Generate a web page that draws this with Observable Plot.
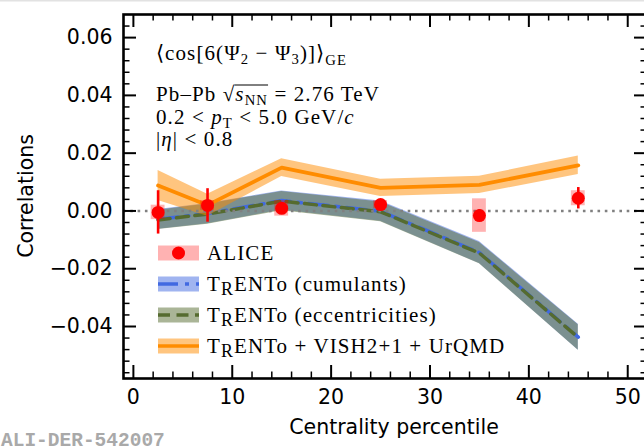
<!DOCTYPE html>
<html>
<head>
<meta charset="utf-8">
<script src="https://cdn.jsdelivr.net/npm/d3@7"></script>
<script src="https://cdn.jsdelivr.net/npm/@observablehq/plot@0.6"></script>
<style>
  body { margin: 0; background: #fff; }
  #chart { width: 644px; height: 448px; overflow: hidden; position: relative; }
</style>
</head>
<body>
<div id="chart"></div>
<script>
// Centrality bins (bin centres, %)
const centrality = [2.5, 7.5, 15, 25, 35, 45];

// ALICE measurement: value, statistical and systematic uncertainty
const aliceValue = [-0.0005, 0.0019, 0.0009, 0.0022, -0.0016, 0.0044];
const aliceStat  = [0.0075, 0.0058, 0.0008, 0.0008, 0.0020, 0.0037];
const aliceSyst  = [0.0025, 0.0017, 0.0027, 0.0014, 0.0058, 0.0026];

// TRENTo initial-state predictions
const cumulantsValue = [-0.0029, -0.0009, 0.0036, -0.0001, -0.0144, -0.0437];
const cumulantsErr   = [0.0034, 0.0035, 0.0033, 0.0035, 0.0038, 0.0045];
const eccentricityValue = [-0.0031, -0.0011, 0.0034, -0.0003, -0.0146, -0.0438];
const eccentricityErr   = [0.0033, 0.0035, 0.0033, 0.0034, 0.0037, 0.0044];

// TRENTo + VISH2+1 + UrQMD hybrid model
const hydroValue = [0.0088, 0.0020, 0.0150, 0.0080, 0.0090, 0.0158];
const hydroErr   = [0.0052, 0.0038, 0.0031, 0.0030, 0.0030, 0.0032];

// Axis ticks
const xMajorTicks = [0, 10, 20, 30, 40, 50];
const xMinorTicks = d3.range(2, 52, 2).filter(v => v % 10 !== 0);
const yMajorTicks = [-0.04, -0.02, 0, 0.02, 0.04, 0.06];
const yMinorTicks = d3.range(-14, 17).filter(i => i % 5 !== 0).map(i => +(i * 0.004).toFixed(3));

// Layout
const W = 647, H = 448;
const mL = 123, mR = 0, mT = 14, mB = 70;
const frameW = W - mL - mR, frameH = H - mT - mB;
const majorLen = 13, minorLen = 6.5;

const colors = {
  alice: "#ff0000",
  cumulants: "#4169e1",
  eccentricity: "#556b2f",
  hydro: "#ff8c00"
};

const alice = centrality.map((c, i) => ({c, v: aliceValue[i], stat: aliceStat[i], syst: aliceSyst[i]}));
const band = (vals, errs) => centrality.map((c, i) => ({c, v: vals[i], lo: vals[i] - errs[i], hi: vals[i] + errs[i]}));
const cumulants = band(cumulantsValue, cumulantsErr);
const eccentricity = band(eccentricityValue, eccentricityErr);
const hydro = band(hydroValue, hydroErr);

const boxHalf = 0.7; // half-width of systematic boxes in centrality units

const svg = Plot.plot({
  width: W, height: H,
  marginLeft: mL, marginRight: mR, marginTop: mT, marginBottom: mB,
  style: {fontFamily: "DejaVu Sans", fontSize: "20.5px", color: "#000", background: "#fff", maxWidth: "none", overflow: "visible"},
  x: {domain: [-1, 52]},
  y: {domain: [-0.058, 0.068]},
  marks: [
    Plot.areaY(cumulants, {x: "c", y1: "lo", y2: "hi", fill: colors.cumulants, fillOpacity: 0.5}),
    Plot.areaY(eccentricity, {x: "c", y1: "lo", y2: "hi", fill: colors.eccentricity, fillOpacity: 0.5}),
    Plot.lineY(cumulants, {x: "c", y: "v", stroke: colors.cumulants, strokeWidth: 3.5, strokeDasharray: "20,7,4,7"}),
    Plot.lineY(eccentricity, {x: "c", y: "v", stroke: colors.eccentricity, strokeWidth: 3.5, strokeDasharray: "12,6.5"}),
    Plot.areaY(hydro, {x: "c", y1: "lo", y2: "hi", fill: colors.hydro, fillOpacity: 0.5}),
    Plot.lineY(hydro, {x: "c", y: "v", stroke: colors.hydro, strokeWidth: 3.8}),
    Plot.ruleY([0], {stroke: "#808080", strokeWidth: 2.6, strokeDasharray: "2.6,4.7"}),
    Plot.rect(alice, {x1: d => d.c - boxHalf, x2: d => d.c + boxHalf, y1: d => d.v - d.syst, y2: d => d.v + d.syst, fill: colors.alice, fillOpacity: 0.3}),
    Plot.ruleX(alice, {x: "c", y1: d => d.v - d.stat, y2: d => d.v + d.stat, stroke: colors.alice, strokeWidth: 2.6}),
    Plot.dot(alice, {x: "c", y: "v", r: 6.5, fill: colors.alice}),
    // inward ticks on all four sides
    Plot.tickX(xMajorTicks, {x: d => d, insetTop: frameH - majorLen, stroke: "#000", strokeWidth: 2}),
    Plot.tickX(xMinorTicks, {x: d => d, insetTop: frameH - minorLen, stroke: "#000", strokeWidth: 1.5}),
    Plot.tickX(xMajorTicks, {x: d => d, insetBottom: frameH - majorLen, stroke: "#000", strokeWidth: 2}),
    Plot.tickX(xMinorTicks, {x: d => d, insetBottom: frameH - minorLen, stroke: "#000", strokeWidth: 1.5}),
    Plot.tickY(yMajorTicks, {y: d => d, insetRight: frameW - majorLen, stroke: "#000", strokeWidth: 2}),
    Plot.tickY(yMinorTicks, {y: d => d, insetRight: frameW - minorLen, stroke: "#000", strokeWidth: 1.5}),
    Plot.tickY(yMajorTicks, {y: d => d, insetLeft: frameW - majorLen, stroke: "#000", strokeWidth: 2}),
    Plot.tickY(yMinorTicks, {y: d => d, insetLeft: frameW - minorLen, stroke: "#000", strokeWidth: 1.5}),
    Plot.frame({stroke: "#000", strokeWidth: 2.6}),
    Plot.axisX({ticks: xMajorTicks, tickSize: 0, tickPadding: 11, label: null, tickFormat: d => String(d)}),
    Plot.axisY({ticks: yMajorTicks, tickSize: 0, tickPadding: 11, label: null, tickFormat: d3.format(".2f")})
  ]
});

document.getElementById("chart").appendChild(svg);
const root = d3.select(svg);

// thin rule along the top edge of the page
root.append("rect").attr("x", 0).attr("y", 0).attr("width", 644).attr("height", 1.5).attr("fill", "#e2e2e2");

// axis titles
root.append("text")
  .attr("transform", "translate(33,196) rotate(-90)")
  .attr("text-anchor", "middle")
  .attr("font-family", "DejaVu Sans").attr("font-size", 20.5)
  .text("Correlations");
root.append("text")
  .attr("x", 394).attr("y", 434)
  .attr("text-anchor", "middle")
  .attr("font-family", "DejaVu Sans").attr("font-size", 20.5)
  .text("Centrality percentile");

// figure ID
root.append("text")
  .attr("x", 1).attr("y", 446)
  .attr("text-anchor", "start")
  .attr("font-family", "Liberation Mono").attr("font-weight", "bold").attr("font-size", 19.5)
  .attr("fill", "#a9a9a9")
  .text("ALI-DER-542007");

// serif annotation text
const serif = "Liberation Serif";
const fs = 21;
const ls = 1.1;
const ann = root.append("g").attr("font-family", serif).attr("font-size", fs)
  .attr("letter-spacing", ls).attr("text-anchor", "start");

const l1 = ann.append("text").attr("x", 156).attr("y", 60);
l1.append("tspan").text("\u27E8cos[6(\u03A8");
l1.append("tspan").attr("font-size", "0.7em").attr("dy", 4).text("2");
l1.append("tspan").attr("dy", -4).text(" \u2212 \u03A8");
l1.append("tspan").attr("font-size", "0.7em").attr("dy", 4).text("3");
l1.append("tspan").attr("dy", -4).text(")]\u27E9");
l1.append("tspan").attr("font-size", "0.7em").attr("dy", 5).text("GE");

const l2 = ann.append("text").attr("x", 156).attr("y", 101);
l2.append("tspan").text("Pb\u2013Pb \u221A");
const sT = l2.append("tspan").attr("font-style", "italic").text("s");
const nnT = l2.append("tspan").attr("font-size", "0.7em").attr("dy", 4).text("NN");
l2.append("tspan").attr("dy", -4).text(" = 2.76 TeV");

const l3 = ann.append("text").attr("x", 156).attr("y", 123.5);
l3.append("tspan").text("0.2 < ");
l3.append("tspan").attr("font-style", "italic").text("p");
l3.append("tspan").attr("font-size", "0.7em").attr("dy", 4).text("T");
l3.append("tspan").attr("dy", -4).text(" < 5.0 GeV/");
l3.append("tspan").attr("font-style", "italic").text("c");

const l4 = ann.append("text").attr("x", 156).attr("y", 146);
l4.append("tspan").text("|");
l4.append("tspan").attr("font-style", "italic").text("\u03B7");
l4.append("tspan").text("| < 0.8");

// radical bar over s_NN
{
  const b1 = sT.node().getBBox(), b2 = nnT.node().getBBox();
  ann.append("line")
    .attr("x1", b1.x - 1).attr("x2", b2.x + b2.width)
    .attr("y1", 101 - 16).attr("y2", 101 - 16)
    .attr("stroke", "#000").attr("stroke-width", 1);
}

// legend
const legendItems = [
  {label: "ALICE", kind: "alice"},
  {label: " (cumulants)", kind: "cumulants", trento: true},
  {label: " (eccentricities)", kind: "eccentricity", trento: true},
  {label: " + VISH2+1 + UrQMD", kind: "hydro", trento: true}
];
const legendX = 158, patchW = 41, patchH = 15, rowY0 = 253, rowStep = 31;
const lg = root.append("g").attr("text-anchor", "start");
legendItems.forEach((item, i) => {
  const cy = rowY0 + i * rowStep;
  const g = lg.append("g");
  const fillColor = item.kind === "alice" ? colors.alice : colors[item.kind];
  g.append("rect").attr("x", legendX).attr("y", cy - patchH / 2).attr("width", patchW).attr("height", patchH)
    .attr("fill", fillColor).attr("fill-opacity", item.kind === "alice" ? 0.3 : 0.5);
  if (item.kind === "alice") {
    g.append("circle").attr("cx", legendX + patchW / 2).attr("cy", cy).attr("r", 6.5).attr("fill", colors.alice);
  } else {
    const dash = item.kind === "cumulants" ? "20,7,4,7" : item.kind === "eccentricity" ? "12,6.5" : null;
    g.append("line").attr("x1", legendX).attr("x2", legendX + patchW).attr("y1", cy).attr("y2", cy)
      .attr("stroke", colors[item.kind]).attr("stroke-width", 3.6).attr("stroke-dasharray", dash);
  }
  const t = g.append("text").attr("x", legendX + patchW + 8).attr("y", cy + 7)
    .attr("font-family", serif).attr("font-size", fs).attr("letter-spacing", ls);
  if (item.trento) {
    t.append("tspan").text("T");
    t.append("tspan").attr("font-size", "0.85em").attr("dy", 4).text("R");
    t.append("tspan").attr("dy", -4).text("ENTo" + item.label);
  } else {
    t.text(item.label);
  }
});
</script>
</body>
</html>
